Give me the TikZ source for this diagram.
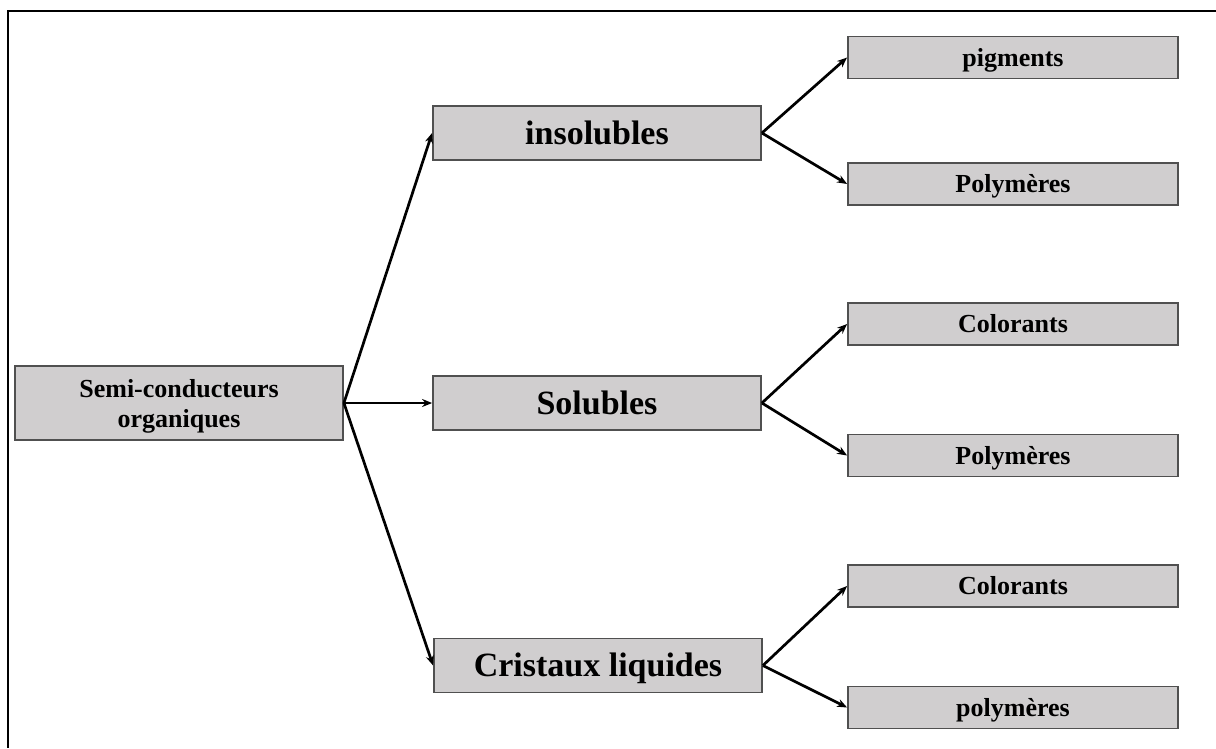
\documentclass[tikz,border=0pt]{standalone}
\usepackage{fontspec}
\setmainfont{Liberation Serif}
\usetikzlibrary{arrows.meta}
\definecolor{boxfill}{HTML}{D0CECF}
\definecolor{boxline}{HTML}{505050}
\tikzset{
  catbox/.style={draw=boxline, fill=boxfill, line width=1.8pt, inner sep=0pt,
    font=\bfseries},
  bigbox/.style={catbox, minimum width=328pt, minimum height=54pt,
    font=\bfseries\fontsize{34}{40}\selectfont, text height=22pt, text depth=0pt},
  smallbox/.style={catbox, minimum width=330pt, minimum height=42pt,
    font=\bfseries\fontsize{26}{30}\selectfont, text height=17pt, text depth=0pt},
  rootbox/.style={catbox, minimum width=328pt, minimum height=74pt, align=center,
    font=\bfseries\fontsize{26}{30}\selectfont, text height=48pt, text depth=0pt},
  link/.style={draw=black, line width=2.7pt, -{Stealth[length=10pt,width=8pt]}},
  frame/.style={draw=black, line width=2pt}
}
\begin{document}
\begin{tikzpicture}[x=1pt, y=-1pt]
  \useasboundingbox (0,0) rectangle (1216,748);
  % outer frame (top and left edges)
  \coordinate (fa) at (1216,11);
  \coordinate (fb) at (8,11);
  \coordinate (fc) at (8,748);
  \draw[frame] (fa) -- (fb) -- (fc);

  % root
  \node[rootbox] (root) at (179,403) {Semi-conducteurs\\organiques};

  % second level
  \node[bigbox] (ins) at (597,133) {insolubles};
  \node[bigbox] (sol) at (597,403) {Solubles};
  \node[bigbox] (cri) at (598,665.5) {Cristaux liquides};

  % third level
  \node[smallbox] (pig)  at (1013,57.5)  {pigments};
  \node[smallbox] (pol1) at (1013,184)   {Polymères};
  \node[smallbox] (col1) at (1013,324)   {Colorants};
  \node[smallbox] (pol2) at (1013,455.5) {Polymères};
  \node[smallbox] (col2) at (1013,586)   {Colorants};
  \node[smallbox] (pol3) at (1013,707.5) {polymères};

  % connectors
  \draw[link] (root.east) -- (ins.west);
  \draw[link] (root.east) -- (sol.west);
  \draw[link] (root.east) -- (cri.west);

  \draw[link] (ins.east) -- (pig.west);
  \draw[link] (ins.east) -- (pol1.west);
  \draw[link] (sol.east) -- (col1.west);
  \draw[link] (sol.east) -- (pol2.west);
  \draw[link] (cri.east) -- (col2.west);
  \draw[link] (cri.east) -- (pol3.west);
\end{tikzpicture}
\end{document}
